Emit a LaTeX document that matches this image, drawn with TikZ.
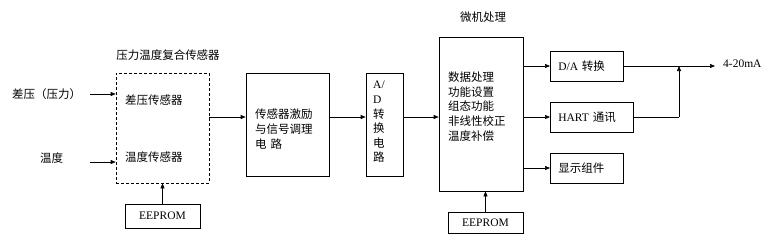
\documentclass[tikz,border=0pt]{standalone}
\usepackage{fontspec}
\setmainfont{Noto Sans CJK SC}
\newfontfamily\lat{Liberation Serif}
\usepackage{tikz}
\usetikzlibrary{arrows.meta,calc}
\tikzset{
  blk/.style={draw,line width=0.6pt,inner sep=0pt},
  dblk/.style={blk,dash pattern=on 3pt off 2pt},
  obox/.style={blk,minimum height=30pt,text width=#1,inner xsep=8pt,align=left},
  txt/.style={inner sep=0pt,anchor=west,align=left},
  arr/.style={line width=0.6pt,-{Triangle[length=5pt,width=4pt]}},
  ln/.style={line width=0.6pt},
}

\begin{document}
\begin{tikzpicture}[x=1pt,y=-1pt,font=\fontsize{11.5}{14.7}\selectfont]
  \useasboundingbox (0,0) rectangle (772,242);
  % sensor part
  \node[dblk,minimum width=93pt,minimum height=110pt] (sens) at (162.5,128) {};
  \node (senstitle) at (168,55) {压力温度复合传感器};
  \node[txt] (dp) at (125,100) {差压传感器};
  \node[txt] (tp) at (125,157) {温度传感器};
  \node[txt] (indp) at (12,94) {差压（压力）};
  \node[txt] (intp) at (40,158) {温度};
  \coordinate (a1) at (90,94); \coordinate (a2) at (90,162);
  \draw[arr] (a1) -- (a1 -| sens.west);
  \draw[arr] (a2) -- (a2 -| sens.west);
  \node[blk,minimum width=75pt,minimum height=24pt] (eeA) at (162.5,216) {\lat EEPROM};
  \draw[arr] (eeA.north) -- (sens.south);
  % conditioning + A/D
  \node[blk,minimum width=83pt,minimum height=103pt] (cond) at (287.5,124.5) {};
  \node[txt] (condtxt) at (255,129) {传感器激励\\与信号调理\\电\,\,路};
  \node[blk,minimum width=37pt,minimum height=103pt] (adc) at (384.5,124.5) {};
  \node[txt,font=\fontsize{11.5}{14.6}\selectfont] (adctxt) at (373,122) {{\lat A/}\\{\lat D}\\转\\换\\电\\路};
  % micro
  \node[blk,minimum width=84pt,minimum height=154pt] (mcu) at (481,114) {};
  \node (mcutitle) at (483,17) {微机处理};
  \node[txt] (mcutxt) at (448,106.5) {数据处理\\功能设置\\组态功能\\非线性校正\\温度补偿};
  \node[blk,minimum width=75pt,minimum height=21pt] (eeB) at (485.5,222.5) {\lat EEPROM};
  \draw[arr] (eeB.north) -- (eeB.north |- mcu.south);
  \coordinate (row) at (0,117);
  \draw[arr] (sens.east |- row) -- (cond.west |- row);
  \draw[arr] (cond.east |- row) -- (adc.west |- row);
  \draw[arr] (adc.east |- row) -- (mcu.west |- row);
  % outputs
  \node[obox=57pt,anchor=west] (dac) at (550,66) {{\lat D/A} 转换};
  \node[obox=67pt,anchor=west] (hart) at (550,117) {{\lat HART} 通讯};
  \node[obox=57pt,anchor=west] (disp) at (550,168) {显示组件};
  \draw[arr] (mcu.east |- dac.west) -- (dac.west);
  \draw[arr] (mcu.east |- hart.west) -- (hart.west);
  \draw[arr] (mcu.east |- disp.west) -- (disp.west);
  \coordinate (out) at (715,66); \coordinate (jn) at (679,66);
  \draw[arr] (dac.east) -- (out);
  \node[txt] (outtxt) at (723,64) {\lat 4-20mA};
  \draw[ln] (hart.east) -- (hart.east -| jn);
  \draw[arr] (hart.east -| jn) -- (jn);
\end{tikzpicture}
\end{document}
